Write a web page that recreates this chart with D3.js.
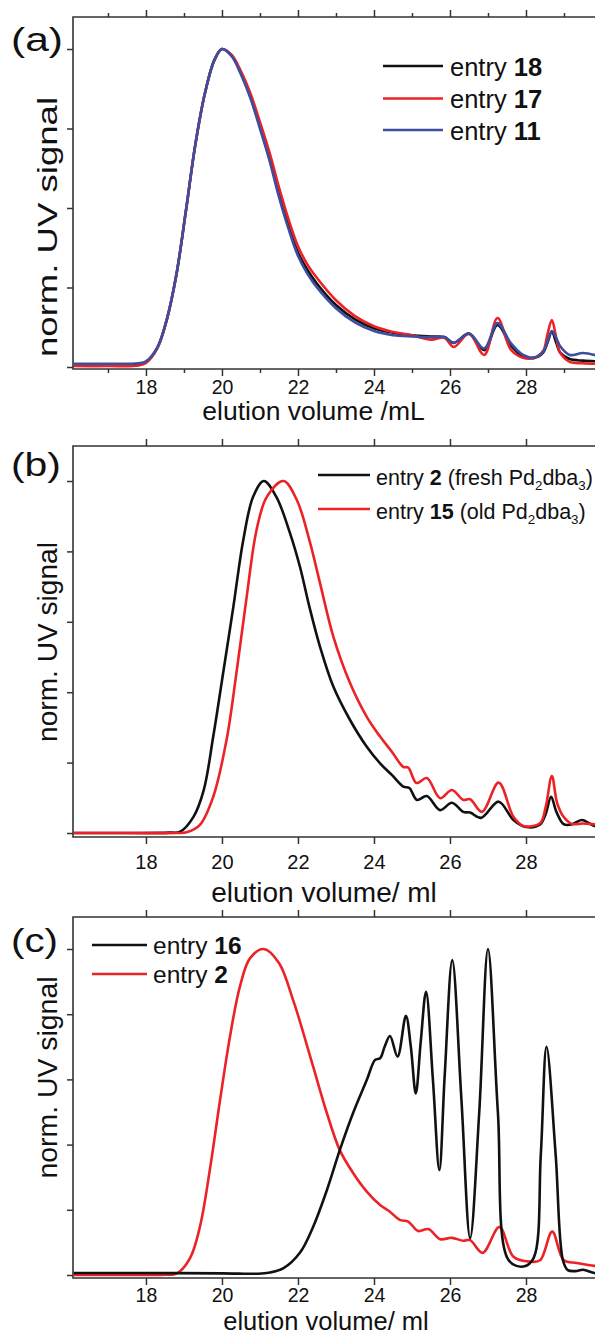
<!DOCTYPE html>
<html>
<head>
<meta charset="utf-8">
<script src="https://cdnjs.cloudflare.com/ajax/libs/d3/7.8.5/d3.min.js"></script>
<style>
body { margin: 0; background: #fff; }
svg { display: block; font-family: "Liberation Sans", Arial, sans-serif; }
</style>
</head>
<body>
<svg width="595" height="1335"></svg>
<script>
// panel (a): elution volume (mL) and normalised signals
var volA   = [16.1, 17, 17.8, 18, 18.3, 18.55, 18.8, 19.05, 19.3, 19.55, 19.8, 20, 20.25, 20.5, 20.75, 21, 21.25, 21.5, 21.75, 22, 22.25, 22.5, 23, 23.5, 24, 24.5, 25, 25.5, 25.85, 26.1, 26.5, 26.9, 27.25, 27.6, 27.9, 28.2, 28.45, 28.56, 28.68, 28.8, 28.9, 29.15, 29.5, 29.9];
var sigA18 = [0.004, 0.004, 0.006, 0.014, 0.06, 0.15, 0.29, 0.49, 0.70, 0.86, 0.965, 1.0, 0.98, 0.925, 0.85, 0.755, 0.66, 0.545, 0.445, 0.36, 0.305, 0.262, 0.195, 0.15, 0.122, 0.108, 0.1, 0.096, 0.094, 0.076, 0.105, 0.053, 0.132, 0.068, 0.035, 0.028, 0.045, 0.075, 0.11, 0.075, 0.045, 0.025, 0.02, 0.018];
var sigA17 = [0.003, 0.003, 0.005, 0.013, 0.06, 0.15, 0.29, 0.49, 0.70, 0.86, 0.965, 1.0, 0.982, 0.93, 0.86, 0.77, 0.675, 0.565, 0.465, 0.38, 0.322, 0.28, 0.21, 0.16, 0.128, 0.11, 0.1, 0.086, 0.092, 0.063, 0.105, 0.038, 0.154, 0.055, 0.03, 0.028, 0.05, 0.1, 0.148, 0.09, 0.045, 0.016, 0.012, 0.01];
var sigA11 = [0.01, 0.01, 0.012, 0.018, 0.062, 0.15, 0.29, 0.49, 0.70, 0.86, 0.965, 1.0, 0.978, 0.92, 0.845, 0.75, 0.65, 0.535, 0.435, 0.35, 0.293, 0.25, 0.185, 0.14, 0.113, 0.1, 0.096, 0.094, 0.094, 0.076, 0.105, 0.058, 0.138, 0.075, 0.04, 0.03, 0.048, 0.078, 0.113, 0.09, 0.065, 0.038, 0.044, 0.035];

// panel (b)
var volB2  = [16.1, 17.5, 18.6, 18.9, 19.25, 19.52, 19.77, 20.03, 20.3, 20.56, 20.82, 21.1, 21.43, 21.79, 22.05, 22.3, 22.58, 22.93, 23.37, 23.81, 24.16, 24.47, 24.77, 24.93, 25.13, 25.39, 25.74, 26.05, 26.35, 26.53, 26.82, 27.28, 27.67, 28.0, 28.37, 28.52, 28.66, 28.8, 28.99, 29.2, 29.47, 29.8, 30];
var sigB2  = [0, 0, 0.001, 0.004, 0.046, 0.122, 0.274, 0.454, 0.643, 0.832, 0.955, 1.0, 0.955, 0.852, 0.757, 0.643, 0.529, 0.416, 0.321, 0.245, 0.198, 0.165, 0.132, 0.128, 0.094, 0.105, 0.065, 0.086, 0.06, 0.058, 0.043, 0.089, 0.037, 0.017, 0.024, 0.055, 0.103, 0.06, 0.025, 0.024, 0.037, 0.02, 0.02];
var volB15 = [16.1, 17.5, 18.8, 19.07, 19.42, 19.77, 20.12, 20.38, 20.65, 20.91, 21.18, 21.62, 21.97, 22.3, 22.58, 22.93, 23.37, 23.81, 24.16, 24.47, 24.77, 24.9, 25.12, 25.39, 25.74, 26.05, 26.35, 26.53, 26.84, 27.28, 27.67, 27.93, 28.37, 28.52, 28.68, 28.82, 28.99, 29.2, 29.5, 29.8, 30];
var sigB15 = [0, 0, 0, 0.002, 0.023, 0.103, 0.264, 0.454, 0.671, 0.861, 0.955, 1.0, 0.946, 0.832, 0.71, 0.558, 0.426, 0.33, 0.274, 0.231, 0.188, 0.186, 0.142, 0.156, 0.099, 0.122, 0.094, 0.096, 0.06, 0.143, 0.046, 0.02, 0.028, 0.075, 0.162, 0.085, 0.046, 0.026, 0.027, 0.025, 0.025];

// panel (c)
var volC16 = [16.1, 18, 20, 21.18, 21.62, 22.05, 22.4, 22.76, 23.1, 23.45, 23.81, 24.03, 24.16, 24.28, 24.42, 24.62, 24.84, 24.97, 25.1, 25.23, 25.37, 25.55, 25.72, 25.86, 26.06, 26.3, 26.53, 26.77, 27.0, 27.26, 27.54, 27.93, 28.2, 28.39, 28.54, 28.78, 28.97, 29.1, 29.3, 29.5, 29.8, 30];
var sigC16 = [0.006, 0.006, 0.005, 0.006, 0.021, 0.068, 0.148, 0.26, 0.383, 0.497, 0.598, 0.66, 0.665, 0.70, 0.733, 0.67, 0.795, 0.70, 0.557, 0.715, 0.869, 0.6, 0.322, 0.61, 0.966, 0.54, 0.113, 0.5, 1.0, 0.5, 0.046, 0.026, 0.052, 0.37, 0.70, 0.37, 0.046, 0.015, 0.012, 0.016, 0.006, 0.005];
var volC2  = [16.1, 17.5, 18.5, 18.8, 19.16, 19.42, 19.68, 19.95, 20.21, 20.47, 20.74, 21.1, 21.5, 21.87, 22.05, 22.4, 22.76, 23.1, 23.45, 23.81, 24.16, 24.42, 24.68, 24.9, 25.16, 25.43, 25.74, 26.05, 26.35, 26.53, 26.86, 27.3, 27.67, 28.1, 28.37, 28.69, 28.99, 29.34, 29.8, 30];
var sigC2  = [0, 0, 0.001, 0.004, 0.052, 0.148, 0.322, 0.537, 0.731, 0.884, 0.972, 1.0, 0.957, 0.844, 0.778, 0.639, 0.497, 0.383, 0.313, 0.256, 0.215, 0.194, 0.169, 0.164, 0.135, 0.141, 0.11, 0.114, 0.105, 0.107, 0.068, 0.147, 0.056, 0.041, 0.045, 0.133, 0.046, 0.037, 0.028, 0.028];

var majorTicks = [18, 20, 22, 24, 26, 28];
var minorTicks = [17, 19, 21, 23, 25, 27, 29];
var yTicksA = [0, 0.25, 0.5, 0.75, 1];
var yTicksBC = [0, 0.2, 0.4, 0.6, 0.8, 1];

var BLACK = "#111", RED = "#ec2227", BLUE = "#3b4ea0", AXIS = "#333";

var svg = d3.select("svg");
var x = d3.scaleLinear().domain([16.08, 30]).range([73, 602]);

var panels = [
    {
        id: "a", top: 17, bottom: 369, y0: 367, y1: 49, yTicks: yTicksA, minor: true,
        pad: 4, tickFont: 19.5,
        xlabel: [{t: "elution volume /mL"}], xlx: 313.5, xly: 420, xlSize: 26.5,
        yly: 227, ylLen: 260,
        letter: "(a)", ly: 51, lSize: 33, lLen: 52,
        series: [
            {x: volA, y: sigA18, c: BLACK},
            {x: volA, y: sigA17, c: RED},
            {x: volA, y: sigA11, c: BLUE}
        ],
        legend: {x1: 383, x2: 443, tx: 450, ys: [66, 98.5, 130], dy: 9.5, size: 25.5,
            items: [
                {c: BLACK, parts: [{t: "entry "}, {t: "18", b: 1}]},
                {c: RED, parts: [{t: "entry "}, {t: "17", b: 1}]},
                {c: BLUE, parts: [{t: "entry "}, {t: "11", b: 1}]}
            ]}
    },
    {
        id: "b", top: 446, bottom: 837, y0: 833, y1: 481, yTicks: yTicksBC, minor: false,
        pad: 11, tickFont: 20,
        xlabel: [{t: "elution volume/ ml"}], xlx: 324, xly: 902, xlSize: 28,
        yly: 642, ylLen: 200,
        letter: "(b)", ly: 476, lSize: 33, lLen: 50,
        series: [
            {x: volB2, y: sigB2, c: BLACK},
            {x: volB15, y: sigB15, c: RED}
        ],
        legend: {x1: 318, x2: 370, tx: 376, ys: [475, 509], dy: 10, size: 21.5,
            items: [
                {c: BLACK, parts: [{t: "entry "}, {t: "2", b: 1}, {t: " (fresh Pd"}, {t: "2", s: 1}, {t: "dba"}, {t: "3", s: 1}, {t: ")"}]},
                {c: RED, parts: [{t: "entry "}, {t: "15", b: 1}, {t: " (old Pd"}, {t: "2", s: 1}, {t: "dba"}, {t: "3", s: 1}, {t: ")"}]}
            ]}
    },
    {
        id: "c", top: 917, bottom: 1278, y0: 1275, y1: 949, yTicks: yTicksBC, minor: false,
        pad: 3, tickFont: 19.5,
        xlabel: [{t: "elution volume/ ml"}], xlx: 326, xly: 1329.5, xlSize: 25.5,
        yly: 1077.5, ylLen: 202,
        letter: "(c)", ly: 952, lSize: 33, lLen: 47,
        series: [
            {x: volC2, y: sigC2, c: RED},
            {x: volC16, y: sigC16, c: BLACK}
        ],
        legend: {x1: 92, x2: 147, tx: 153, ys: [945, 974], dy: 9, size: 24.5,
            items: [
                {c: BLACK, parts: [{t: "entry "}, {t: "16", b: 1}]},
                {c: RED, parts: [{t: "entry "}, {t: "2", b: 1}]}
            ]}
    }
];

function addParts(text, parts) {
    var shifted = false;
    parts.forEach(function (p) {
        var ts = text.append("tspan").text(p.t);
        if (p.b) ts.attr("font-weight", "bold");
        if (p.s) {
            ts.attr("font-size", "0.62em").attr("dy", 5);
            shifted = true;
        } else if (shifted) {
            ts.attr("dy", -5);
            shifted = false;
        }
    });
}

function styleAxis(g) {
    g.select(".domain").remove();
    g.selectAll("line").attr("stroke", AXIS).attr("stroke-width", 1.5);
    g.attr("font-family", null);
}

panels.forEach(function (p) {
    var g = svg.append("g").attr("class", "panel-" + p.id);
    var y = d3.scaleLinear().domain([0, 1]).range([p.y0, p.y1]);

    g.append("clipPath").attr("id", "clip-" + p.id)
        .append("rect")
        .attr("x", 73).attr("y", p.top)
        .attr("width", 530).attr("height", p.bottom - p.top);

    // ticks
    g.append("g")
        .attr("transform", "translate(0," + p.bottom + ")")
        .call(d3.axisBottom(x).tickValues(majorTicks).tickSize(7).tickSizeOuter(0)
            .tickPadding(p.pad).tickFormat(d3.format("d")))
        .call(styleAxis)
        .selectAll("text")
        .attr("font-size", p.tickFont)
        .attr("fill", "#111");

    g.append("g")
        .attr("transform", "translate(0," + p.top + ")")
        .call(d3.axisTop(x).tickValues(majorTicks).tickSize(7).tickSizeOuter(0).tickFormat(""))
        .call(styleAxis);

    if (p.minor) {
        g.append("g")
            .attr("transform", "translate(0," + p.bottom + ")")
            .call(d3.axisBottom(x).tickValues(minorTicks).tickSize(4).tickSizeOuter(0).tickFormat(""))
            .call(styleAxis);
        g.append("g")
            .attr("transform", "translate(0," + p.top + ")")
            .call(d3.axisTop(x).tickValues(minorTicks).tickSize(4).tickSizeOuter(0).tickFormat(""))
            .call(styleAxis);
    }

    g.append("g")
        .attr("transform", "translate(73,0)")
        .call(d3.axisLeft(y).tickValues(p.yTicks).tickSize(6).tickSizeOuter(0).tickFormat(""))
        .call(styleAxis);

    // frame (right side runs off the page)
    g.append("path")
        .attr("d", "M603," + p.top + "H73V" + p.bottom + "H603")
        .attr("fill", "none")
        .attr("stroke", AXIS)
        .attr("stroke-width", 1.6);

    // curves
    var line = d3.line()
        .x(function (d) { return x(d[0]); })
        .y(function (d) { return y(d[1]); })
        .curve(d3.curveCatmullRom.alpha(0.5));

    g.append("g").attr("clip-path", "url(#clip-" + p.id + ")")
        .selectAll("path")
        .data(p.series)
        .enter().append("path")
        .attr("fill", "none")
        .attr("stroke", function (s) { return s.c; })
        .attr("stroke-width", 2.6)
        .attr("stroke-linejoin", "round")
        .attr("d", function (s) { return line(d3.zip(s.x, s.y)); });

    // legend
    var lg = p.legend;
    lg.items.forEach(function (it, i) {
        g.append("line")
            .attr("x1", lg.x1).attr("x2", lg.x2)
            .attr("y1", lg.ys[i]).attr("y2", lg.ys[i])
            .attr("stroke", it.c).attr("stroke-width", 2.6);
        var t = g.append("text")
            .attr("x", lg.tx).attr("y", lg.ys[i] + lg.dy)
            .attr("font-size", lg.size)
            .attr("fill", "#111");
        addParts(t, it.parts);
    });

    // axis labels
    var xl = g.append("text")
        .attr("x", p.xlx).attr("y", p.xly)
        .attr("text-anchor", "middle")
        .attr("font-size", p.xlSize)
        .attr("fill", "#111");
    addParts(xl, p.xlabel);

    g.append("text")
        .attr("transform", "translate(57," + p.yly + ") rotate(-90)")
        .attr("text-anchor", "middle")
        .attr("font-size", 28)
        .attr("textLength", p.ylLen)
        .attr("lengthAdjust", "spacingAndGlyphs")
        .attr("fill", "#111")
        .text("norm. UV signal");

    g.append("text")
        .attr("x", 11).attr("y", p.ly)
        .attr("font-size", p.lSize)
        .attr("textLength", p.lLen)
        .attr("lengthAdjust", "spacingAndGlyphs")
        .attr("fill", "#111")
        .text(p.letter);
});
</script>
</body>
</html>
